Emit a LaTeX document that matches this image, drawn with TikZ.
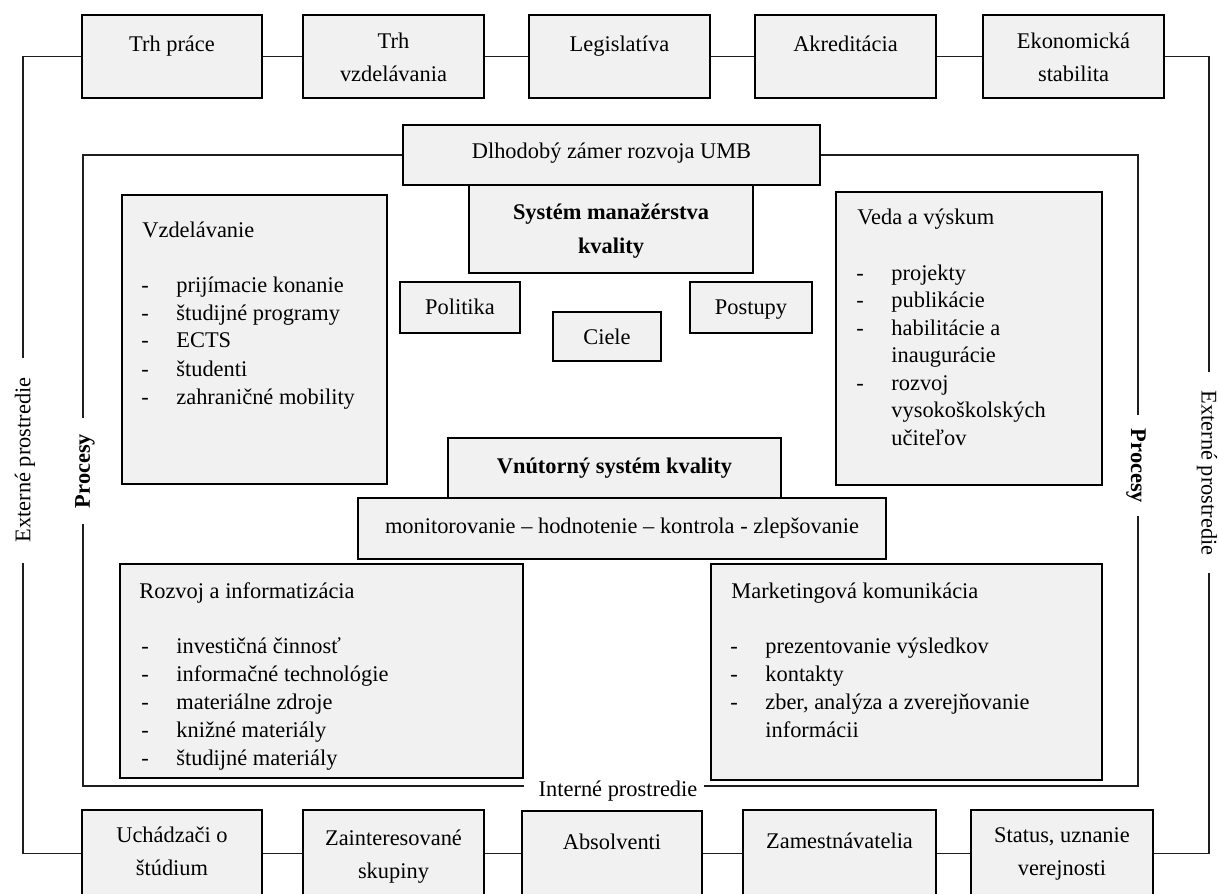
\documentclass[tikz,border=0pt]{standalone}
\usepackage{fontspec}
\setmainfont{Liberation Serif}
\usetikzlibrary{fit}
\definecolor{boxfill}{HTML}{F1F1F1}
\definecolor{linecol}{HTML}{1E1E1E}
\newcommand\twoline[2]{\begin{tabular}[t]{@{}c@{}}#1\\#2\end{tabular}}
\newcommand\dashlist[1]{\begin{tabular}[t]{@{}p{17.5pt}@{}l@{}}#1\end{tabular}}
\tikzset{
  ebox/.style={draw=black, line width=0.9pt, fill=boxfill, inner sep=0pt},
  conn/.style={draw=linecol, line width=0.8pt},
  txt/.style={inner sep=0pt, anchor=base, font=\fontsize{11.2}{16.5}\selectfont},
  btxt/.style={txt, font=\fontsize{11.2}{17}\selectfont\bfseries},
  ltxt/.style={inner sep=0pt, anchor=base west, font=\fontsize{11.2}{14}\selectfont},
  vtxt/.style={inner sep=0pt, anchor=base west, font=\fontsize{11.2}{13.75}\selectfont},
  sidetxt/.style={inner sep=0pt, font=\fontsize{11.2}{13}\selectfont},
}
\begin{document}
\begin{tikzpicture}[x=0.5pt,y=-0.5pt]
\useasboundingbox (0,0) rectangle (1219,893);
\clip (0,0) rectangle (1219,893);

% ---------- top row ----------
\node[ebox, fit={(82,15)(262,98)}] (b1) {};
\node[ebox, fit={(303,15)(484,98)}] (b2) {};
\node[ebox, fit={(529,15)(710,98)}] (b3) {};
\node[ebox, fit={(755,15)(936,98)}] (b4) {};
\node[ebox, fit={(983,15)(1164,98)}] (b5) {};
\node[txt] (tb1) at (172,52) {Trh práce};
\node[txt] (tb2) at (393.5,49) {\twoline{Trh}{vzdelávania}};
\node[txt] (tb3) at (619.5,52) {Legislatíva};
\node[txt] (tb4) at (845.5,52) {Akreditácia};
\node[txt] (tb5) at (1073.5,49) {\twoline{Ekonomická}{stabilita}};

% ---------- bottom row ----------
\node[ebox, fit={(82,810)(262,897)}] (c1) {};
\node[ebox, fit={(303,810)(484,897)}] (c2) {};
\node[ebox, fit={(522,811)(702,897)}] (c3) {};
\node[ebox, fit={(743,810)(936,897)}] (c4) {};
\node[ebox, fit={(971,810)(1153,897)}] (c5) {};
\node[txt] (tc1) at (172,842) {\twoline{Uchádzači o}{štúdium}};
\node[txt] (tc2) at (393.5,845) {\twoline{Zainteresované}{skupiny}};
\node[txt] (tc3) at (612,849) {Absolventi};
\node[txt] (tc4) at (839.5,848) {Zamestnávatelia};
\node[txt] (tc5) at (1062,842) {\twoline{Status, uznanie}{verejnosti}};

% ---------- central boxes ----------
\node[ebox, fit={(403,125)(820,185)}] (dl) {};
\node[txt] (tdl) at (611.5,159) {Dlhodobý zámer rozvoja UMB};
\node[ebox, fit={(469,185)(753,273)}] (sm) {};
\node[btxt] (tsm) at (611,220) {\twoline{Systém manažérstva}{kvality}};
\node[ebox, fit={(400,282)(520,333)}] (po) {};
\node[txt] (tpo) at (460,314) {Politika};
\node[ebox, fit={(553,312)(661,361)}] (ci) {};
\node[txt] (tci) at (607,344) {Ciele};
\node[ebox, fit={(690,282)(812,333)}] (pu) {};
\node[txt] (tpu) at (751,314) {Postupy};

\node[ebox, fit={(448,438)(781,498)}] (vs) {};
\node[btxt] (tvs) at (614.5,473) {Vnútorný systém kvality};
\node[ebox, fit={(358,498)(886,559)}] (mo) {};
\node[txt] (tmo) at (622,533) {monitorovanie – hodnotenie – kontrola - zlepšovanie};

% ---------- process boxes ----------
\node[ebox, fit={(122,195)(387,484)}] (vz) {};
\node[ltxt] (tvz) at (142,237) {Vzdelávanie};
\node[ltxt] (lvz) at (141,292) {\dashlist{-&prijímacie konanie\\-&študijné programy\\-&ECTS\\-&študenti\\-&zahraničné mobility}};

\node[ebox, fit={(836,192)(1102,485)}] (ve) {};
\node[vtxt] (tve) at (857,225) {Veda a výskum};
\node[vtxt] (lve) at (856,280) {\dashlist{-&projekty\\-&publikácie\\-&habilitácie a\\&inaugurácie\\-&rozvoj\\&vysokoškolských\\&učiteľov}};

\node[ebox, fit={(120,564)(523,778)}] (ro) {};
\node[ltxt] (tro) at (139,598) {Rozvoj a informatizácia};
\node[ltxt] (lro) at (141,653) {\dashlist{-&investičná činnosť\\-&informačné technológie\\-&materiálne zdroje\\-&knižné materiály\\-&študijné materiály}};

\node[ebox, fit={(711,564)(1102,780)}] (mk) {};
\node[ltxt] (tmk) at (731,598) {Marketingová komunikácia};
\node[ltxt] (lmk) at (730,653) {\dashlist{-&prezentovanie výsledkov\\-&kontakty\\-&zber, analýza a~zverejňovanie\\&informácii}};

% ---------- side labels ----------
\node[sidetxt, rotate=90] (extL) at (25,460) {Externé prostredie};
\node[sidetxt, rotate=-90] (extR) at (1207,473) {Externé prostredie};
\node[sidetxt, font=\fontsize{11.2}{13}\selectfont\bfseries, rotate=90] (prL) at (85,471) {Procesy};
\node[sidetxt, font=\fontsize{11.2}{13}\selectfont\bfseries, rotate=-90] (prR) at (1136,466) {Procesy};
\node[txt] (intn) at (618,796) {Interné prostredie};

% ---------- connector end points ----------
\coordinate (eLt) at (23,358);
\coordinate (eLb) at (23,563);
\coordinate (eRt) at (1209,372);
\coordinate (eRb) at (1209,573);
\coordinate (iLt) at (83,418);
\coordinate (iLb) at (83,524);
\coordinate (iRt) at (1138,415);
\coordinate (iRb) at (1138,516);
\coordinate (iBl) at (524,786);
\coordinate (iBr) at (704,786);

% ---------- connectors ----------
\draw[conn] (b1.east) -- (b2.west);
\draw[conn] (b2.east) -- (b3.west);
\draw[conn] (b3.east) -- (b4.west);
\draw[conn] (b4.east) -- (b5.west);
\draw[conn] (c1.east) -- (c2.west);
\draw[conn] (c2.east) -- (c3.west |- c2.east);
\draw[conn] (c3.east |- c4.west) -- (c4.west);
\draw[conn] (c4.east) -- (c5.west);
\draw[conn] (b1.west) -| (eLt);
\draw[conn] (eLb) |- (c1.west);
\draw[conn] (b5.east) -| (eRt);
\draw[conn] (eRb) |- (c5.east);
\draw[conn] (dl.west) -| (iLt);
\draw[conn] (dl.east) -| (iRt);
\draw[conn] (iLb) |- (iBl);
\draw[conn] (iBr) -| (iRb);
\end{tikzpicture}
\end{document}
